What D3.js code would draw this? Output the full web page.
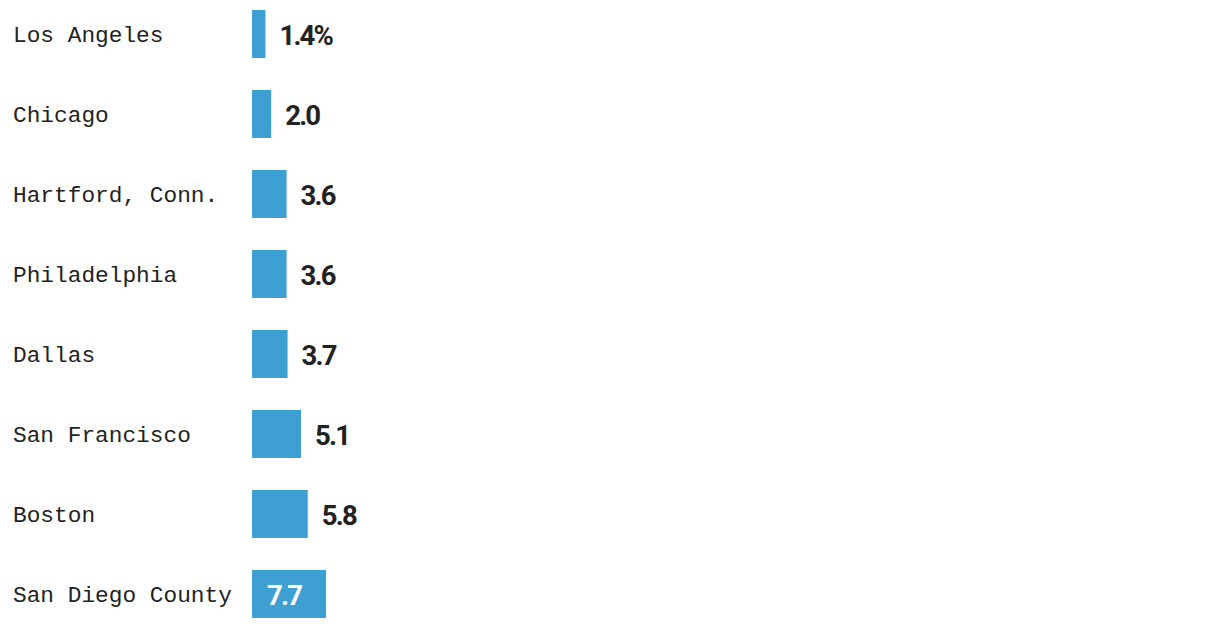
<!DOCTYPE html>
<html><head><meta charset="utf-8">
<script src="https://cdn.jsdelivr.net/npm/d3@7"></script>
<style>body{margin:0;background:#fff;}svg{display:block;}</style>
</head><body>
<script>
const categories = ["Los Angeles","Chicago","Hartford, Conn.","Philadelphia","Dallas","San Francisco","Boston","San Diego County"];
const values = [1.4,2.0,3.6,3.6,3.7,5.1,5.8,7.7];
const valueLabels = ["1.4%","2.0","3.6","3.6","3.7","5.1","5.8","7.7"];

const W=1220,H=628;
const svg=d3.select("body").append("svg").attr("width",W).attr("height",H);
const x=d3.scaleLinear().domain([0,7.7]).range([252,326]);
const yb=d3.scaleBand().domain(categories).range([10,618]).paddingInner(0.4).paddingOuter(0);

const g=svg.append("g");
const rows=g.selectAll("g.row").data(categories).join("g");
rows.append("rect").attr("x",x(0)).attr("y",d=>yb(d)).attr("height",yb.bandwidth())
  .attr("width",(d,i)=>x(values[i])-x(0)).attr("fill","#3d9fd2");
rows.append("text").attr("x",13).attr("y",d=>yb(d)+yb.bandwidth()/2+8)
  .attr("font-family","Liberation Mono").attr("font-size",22.8).attr("fill","#222")
  .text(d=>d);
rows.append("text")
  .attr("x",(d,i)=>i===categories.length-1 ? x(0)+15 : x(values[i])+14)
  .attr("y",d=>yb(d)+yb.bandwidth()/2+10.5)
  .attr("font-family","Roboto").attr("font-weight",700).attr("font-size",27.5)
  .attr("letter-spacing",-1.8)
  .attr("fill",(d,i)=>i===categories.length-1?"#fff":"#222")
  .text((d,i)=>valueLabels[i]);
</script>
</body></html>
